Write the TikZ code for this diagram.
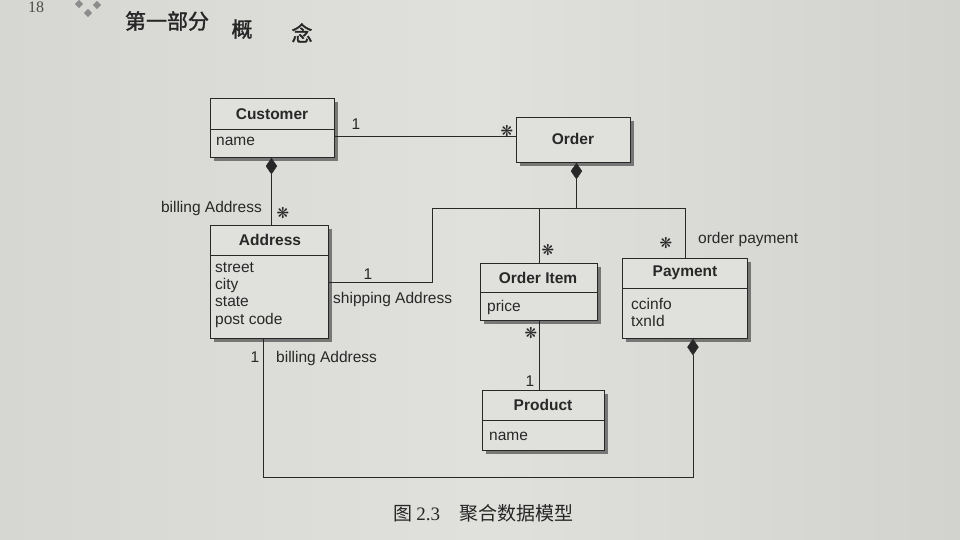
\documentclass[tikz,border=0pt]{standalone}
\usepackage{fontspec}
\setmainfont{Liberation Sans}
\newfontfamily\cjk{Noto Sans CJK SC}
\newfontfamily\cjkb[FakeBold=1.6]{Noto Sans CJK SC}
\newfontfamily\symfont{DejaVu Sans}
\newfontfamily\serifnum{Liberation Serif}
\usetikzlibrary{shapes.geometric,shadows,calc}
\definecolor{paper}{RGB}{224,224,221}
\definecolor{paperL}{RGB}{214,214,211}
\definecolor{paperR}{RGB}{210,210,207}
\definecolor{ink}{RGB}{40,40,40}
\begin{document}
\begin{tikzpicture}[x=1pt,y=-1pt,
  cls/.style={draw=ink, line width=0.9pt, fill=paper, anchor=north west, inner sep=0pt,
    drop shadow={shadow xshift=4pt, shadow yshift=-4pt, fill=black!70, opacity=0.7}},
  ttl/.style={font=\bfseries\fontsize{15.5}{18}\selectfont, text=ink, inner sep=0pt},
  attr/.style={font=\fontsize{15.5}{18}\selectfont, text=ink, anchor=west, inner sep=0pt},
  lbl/.style={font=\fontsize{15.5}{18}\selectfont, text=ink, inner sep=0pt},
  mult/.style={font=\symfont\fontsize{15}{17}\selectfont, text=ink, inner sep=0pt},
  ln/.style={draw=ink, line width=0.9pt},
  dia/.style={diamond, fill=ink, draw=ink, inner sep=0pt, minimum width=11pt, minimum height=16pt},
  deco/.style={fill=black!45, draw=none, minimum size=6pt, inner sep=0pt, rotate=45},
  hdr/.style={font=\cjkb\fontsize{21}{24}\selectfont, text=black!85, inner sep=0pt}
]
% background
\useasboundingbox (0,0) rectangle (960,540);
\shade[left color=paperL, right color=paperR, middle color=paper] (0,0) rectangle (960,540);

% page header
\node[font=\serifnum\fontsize{16}{18}\selectfont, text=black!70, anchor=north, inner sep=0pt] (pgno) at (36,2) {18};
\node[deco] (sq1) at (79,4) {};
\node[deco] (sq2) at (88,13) {};
\node[deco] (sq3) at (97,5) {};
\node[hdr] (h1) at (167,21) {第一部分};
\node[hdr] (h2) at (242,29) {概};
\node[hdr] (h3) at (302,33) {念};

% classes
\node[cls, minimum width=124pt, minimum height=59pt] (cust) at (210,98) {};
\draw[ln] (210,129) -- (334,129);
\node[ttl] (custT) at (272,114) {Customer};
\node[attr] (custA) at (216,141) {name};

\node[cls, minimum width=114pt, minimum height=45pt] (order) at (516,117) {};
\node[ttl] (orderT) at (573,139) {Order};

\node[cls, minimum width=118pt, minimum height=113pt] (addr) at (210,225) {};
\draw[ln] (210,255) -- (328,255);
\node[ttl] (addrT) at (270,240) {Address};
\node[attr] (a1) at (215,268) {street};
\node[attr] (a2) at (215,285) {city};
\node[attr] (a3) at (215,302) {state};
\node[attr] (a4) at (215,320) {post code};

\node[cls, minimum width=117pt, minimum height=57pt] (item) at (480,263) {};
\draw[ln] (480,292) -- (597,292);
\node[ttl] (itemT) at (538,278) {Order Item};
\node[attr] (itemA) at (487,307) {price};

\node[cls, minimum width=125pt, minimum height=80pt] (pay) at (622,258) {};
\draw[ln] (622,288) -- (747,288);
\node[ttl] (payT) at (685,273) {Payment};
\node[attr] (p1) at (631,304) {ccinfo};
\node[attr] (p2) at (631,321) {txnId};

\node[cls, minimum width=122pt, minimum height=60pt] (prod) at (482,390) {};
\draw[ln] (482,420) -- (604,420);
\node[ttl] (prodT) at (543,405) {Product};
\node[attr] (prodA) at (489,436) {name};

% Customer -- Order
\draw[ln] ($(cust.north east)+(0,38)$) -- ($(order.north west)+(0,19)$);
\node[lbl] (m1) at (356,124) {1};
\node[mult] (m2) at (507,131) {❋};

% Customer <>-- Address
\node[dia, anchor=north] (dc) at ($(cust.south)+(-1,0)$) {};
\draw[ln] (dc.south) -- (dc.south |- addr.north);
\node[lbl, anchor=east] (l1) at (262,208) {billing Address};
\node[mult] (m3) at (283,213) {❋};

% Order <>-- (Address, Order Item, Payment)
\node[dia, anchor=north] (do) at ($(order.south)+(3,0)$) {};
\coordinate (busL) at (432,208);
\draw[ln] (do.south) -- (do.south |- busL);
\draw[ln] (addr.east) -| (busL) -- (pay.north |- busL) -- (pay.north);
\draw[ln] (item.north |- busL) -- (item.north);
\node[lbl] (m4) at (368,274) {1};
\node[lbl, anchor=west] (l2) at (333,299) {shipping Address};
\node[mult] (m5) at (548,250) {❋};
\node[mult] (m6) at (666,243) {❋};
\node[lbl, anchor=west] (l3) at (698,239) {order payment};

% Order Item -- Product
\draw[ln] (item.south) -- (item.south |- prod.north);
\node[mult] (m7) at (531,333) {❋};
\node[lbl] (m8) at (530,381) {1};

% Address -- Payment (billing)
\coordinate (addrB) at ($(addr.south)+(-6,0)$);
\coordinate (botL) at (263,477);
\node[dia, anchor=north] (dp) at ($(pay.south)+(8,0)$) {};
\draw[ln] (addrB) -- (addrB |- botL) -| (dp.south);
\node[lbl] (m9) at (255,357) {1};
\node[lbl, anchor=west] (l4) at (276,358) {billing Address};

% caption
\node[font=\fontsize{19}{22}\selectfont, text=black!85, inner sep=0pt] (cap) at (483,513)
  {\cjk 图\ \serifnum 2.3\quad\cjk 聚合数据模型};
\end{tikzpicture}
\end{document}
